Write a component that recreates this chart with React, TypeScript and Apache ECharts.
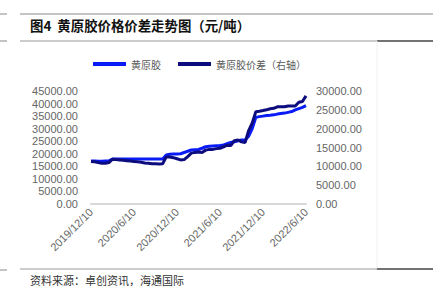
import React, { useEffect, useRef } from "react";
import * as echarts from "echarts";

const dates: string[] = [
  "2019/12/10", "2019/12/25",
  "2020/1/10", "2020/1/25", "2020/2/10", "2020/2/25", "2020/3/10", "2020/3/25",
  "2020/4/10", "2020/4/25", "2020/5/10", "2020/5/25", "2020/6/10", "2020/6/25",
  "2020/7/10", "2020/7/25", "2020/8/10", "2020/8/25", "2020/9/10", "2020/9/25",
  "2020/10/10", "2020/10/25", "2020/11/10", "2020/11/25", "2020/12/10", "2020/12/25",
  "2021/1/10", "2021/1/25", "2021/2/10", "2021/2/25", "2021/3/10", "2021/3/25",
  "2021/4/10", "2021/4/25", "2021/5/10", "2021/5/25", "2021/6/10", "2021/6/25",
  "2021/7/10", "2021/7/25", "2021/8/10", "2021/8/25", "2021/9/10", "2021/9/25",
  "2021/10/10", "2021/10/25", "2021/11/10", "2021/11/25", "2021/12/10", "2021/12/25",
  "2022/1/10", "2022/1/25", "2022/2/10", "2022/2/25", "2022/3/10", "2022/3/25",
  "2022/4/10", "2022/4/25", "2022/5/10", "2022/5/25", "2022/6/10",
];

// 黄原胶 (left axis)
const xanthanPrice: number[] = [
  17100, 17100, 17000, 17000, 17100, 17200, 17900, 17900, 17900, 17900,
  17900, 17900, 17900, 17900, 17900, 17900, 17900, 17900, 17900, 17900,
  17900, 19500, 19800, 19900, 19900, 20000, 20500, 21000, 21500, 21600,
  21700, 22200, 22800, 23000, 23100, 23200, 23300, 23500, 24000, 24500,
  24800, 25200, 25500, 25500, 27000, 30000, 34500, 34800, 35000, 35200,
  35300, 35500, 35800, 36000, 36200, 36500, 36800, 37500, 38000, 38500,
  39200,
];

// 黄原胶价差 (right axis)
const xanthanSpread: number[] = [
  11300, 11200, 11000, 10800, 10800, 11000, 11900, 11800, 11700, 11600,
  11500, 11400, 11300, 11200, 11100, 10900, 10800, 10700, 10700, 10600,
  10700, 12500, 12500, 12300, 12000, 11700, 11800, 12600, 13500, 13700,
  13800, 13700, 14300, 14500, 14500, 14700, 14800, 15200, 15600, 15500,
  16800, 17000, 16500, 16300, 19500, 21500, 24500, 24600, 24800, 25000,
  25300, 25400, 25800, 25800, 25800, 26000, 26000, 26000, 27000, 27200,
  28700,
];

const seriesNames: string[] = ["黄原胶", "黄原胶价差（右轴）"];
const titleText = "图4  黄原胶价格价差走势图（元/吨）";
const sourceText = "资料来源：卓创资讯，海通国际";

export default function App() {
  const ref = useRef<HTMLDivElement>(null);
  useEffect(() => {
    if (!ref.current) return;
    const chart = echarts.init(ref.current, undefined, { renderer: "svg" });
    const axisLabelStyle = {
      color: "#666666",
      fontFamily: "Liberation Sans",
      fontSize: 11,
    };
    chart.setOption({
      animation: false,
      backgroundColor: "#ffffff",
      grid: { left: 91, right: 127, top: 91, bottom: 91, containLabel: false },
      legend: {
        left: 88,
        top: 54,
        itemWidth: 33,
        itemHeight: 4,
        itemGap: 17,
        icon: "rect",
        textStyle: { color: "#595959", fontSize: 10, fontFamily: "Noto Sans CJK SC" },
        data: seriesNames,
      },
      xAxis: {
        type: "category",
        data: dates,
        boundaryGap: false,
        axisLine: { show: true, lineStyle: { color: "#d9d9d9", width: 2 } },
        axisTick: { show: false },
        axisLabel: { ...axisLabelStyle, rotate: 45, interval: 11, margin: 6 },
        splitLine: { show: false },
      },
      yAxis: [
        {
          type: "value",
          min: 0,
          max: 45000,
          interval: 5000,
          axisLine: { show: false },
          axisTick: { show: false },
          splitLine: { show: false },
          axisLabel: { ...axisLabelStyle, margin: 13, formatter: (v: number) => v.toFixed(2) },
        },
        {
          type: "value",
          min: 0,
          max: 30000,
          interval: 5000,
          position: "right",
          axisLine: { show: false },
          axisTick: { show: false },
          splitLine: { show: false },
          axisLabel: { ...axisLabelStyle, margin: 10, formatter: (v: number) => v.toFixed(2) },
        },
      ],
      series: [
        {
          name: seriesNames[0],
          type: "line",
          yAxisIndex: 0,
          data: xanthanPrice,
          showSymbol: false,
          symbol: "none",
          itemStyle: { color: "#0a1cf5" },
          lineStyle: { color: "#0a1cf5", width: 3 },
        },
        {
          name: seriesNames[1],
          type: "line",
          yAxisIndex: 1,
          data: xanthanSpread,
          showSymbol: false,
          symbol: "none",
          itemStyle: { color: "#0c0c7e" },
          lineStyle: { color: "#0c0c7e", width: 3 },
        },
      ],
      graphic: [
        { type: "line", shape: { x1: 0, y1: 14, x2: 7, y2: 14 }, style: { stroke: "#888", lineWidth: 1 } },
        { type: "line", shape: { x1: 20, y1: 14, x2: 433, y2: 14 }, style: { stroke: "#888", lineWidth: 1 } },
        { type: "line", shape: { x1: 0, y1: 41, x2: 7, y2: 41 }, style: { stroke: "#888", lineWidth: 1 } },
        { type: "line", shape: { x1: 20, y1: 41, x2: 377, y2: 41 }, style: { stroke: "#999", lineWidth: 1 } },
        { type: "line", shape: { x1: 377, y1: 41, x2: 433, y2: 41 }, style: { stroke: "#444", lineWidth: 1.5 } },
        { type: "line", shape: { x1: 377, y1: 41, x2: 377, y2: 269 }, style: { stroke: "#f0f0f0", lineWidth: 1 } },
        { type: "line", shape: { x1: 0, y1: 270, x2: 7, y2: 270 }, style: { stroke: "#888", lineWidth: 1 } },
        { type: "line", shape: { x1: 20, y1: 269, x2: 377, y2: 269 }, style: { stroke: "#999", lineWidth: 1 } },
        { type: "line", shape: { x1: 377, y1: 269, x2: 433, y2: 269 }, style: { stroke: "#444", lineWidth: 1.5 } },
        {
          type: "text",
          left: 30,
          top: 18,
          style: {
            text: titleText,
            fill: "#111",
            font: "bold 13.4px 'Noto Sans CJK SC'",
          },
        },
        {
          type: "text",
          left: 30,
          top: 274,
          style: {
            text: sourceText,
            fill: "#333",
            font: "11px 'Noto Sans CJK SC'",
          },
        },
      ],
    });
    return () => chart.dispose();
  }, []);
  return <div ref={ref} style={{ width: 433, height: 295, position: "absolute", left: 0, top: 0 }} />;
}
